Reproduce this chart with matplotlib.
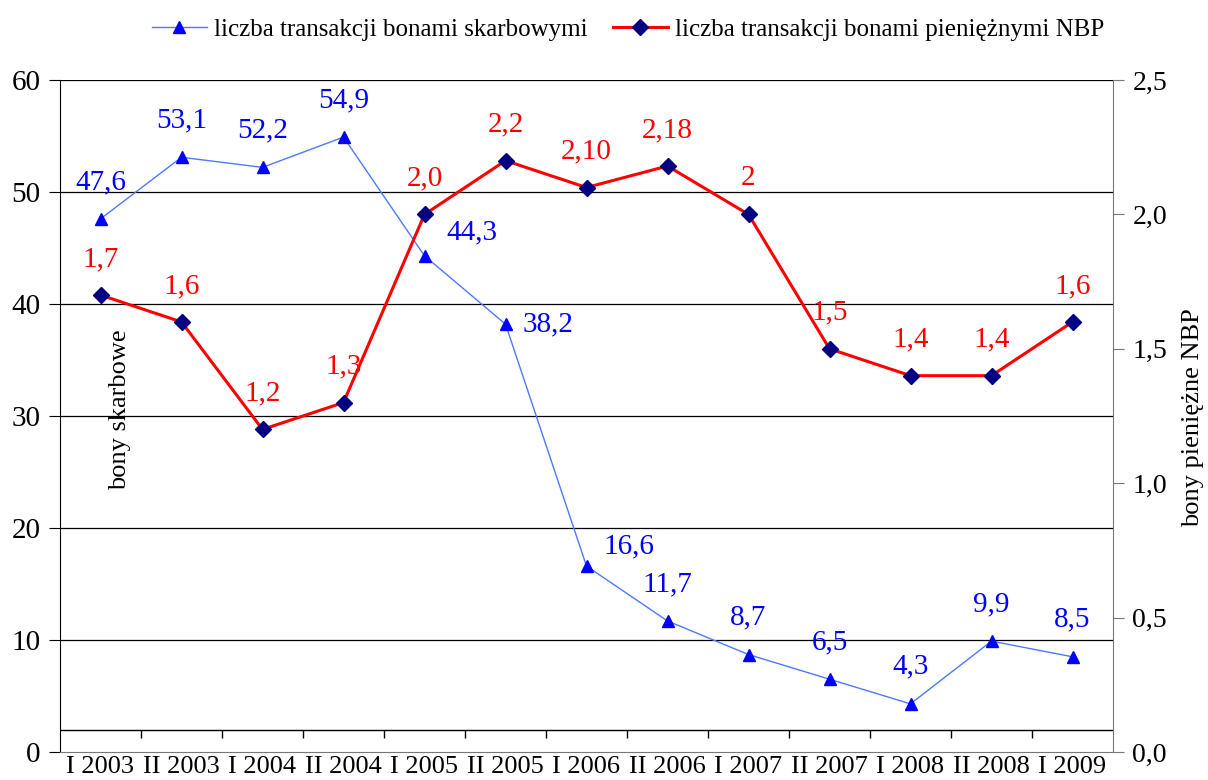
import numpy as np
import matplotlib.pyplot as plt

plt.rcParams['font.family'] = ['Liberation Serif', 'DejaVu Serif']

# data
periods = ['I 2003', 'II 2003', 'I 2004', 'II 2004', 'I 2005', 'II 2005', 'I 2006',
           'II 2006', 'I 2007', 'II 2007', 'I 2008', 'II 2008', 'I 2009']
skarbowe = [47.6, 53.1, 52.2, 54.9, 44.3, 38.2, 16.6, 11.7, 8.7, 6.5, 4.3, 9.9, 8.5]
skarbowe_lbl = ['47,6', '53,1', '52,2', '54,9', '44,3', '38,2', '16,6', '11,7',
                '8,7', '6,5', '4,3', '9,9', '8,5']
nbp = [1.7, 1.6, 1.2, 1.3, 2.0, 2.2, 2.10, 2.18, 2.0, 1.5, 1.4, 1.4, 1.6]
nbp_lbl = ['1,7', '1,6', '1,2', '1,3', '2,0', '2,2', '2,10', '2,18', '2',
           '1,5', '1,4', '1,4', '1,6']

x = np.arange(len(periods))

fig = plt.figure(figsize=(12.08, 7.8), dpi=100)
ax = fig.add_axes([60 / 1208, 28 / 780, 1053 / 1208, 672 / 780])
ax2 = ax.twinx()

# left axis
ax.set_xlim(-0.5, len(periods) - 0.5)
ax.set_ylim(0, 60)
ax.set_yticks(np.arange(0, 61, 10))
ax.tick_params(axis='y', direction='out', length=8, labelsize=21, pad=6)
ax.set_xticks(x)
ax.set_xticklabels(periods, fontsize=19)
ax.tick_params(axis='x', length=0, pad=3)
for v in range(10, 61, 10):
    ax.axhline(v, color='black', lw=0.9, zorder=0)
# category axis line drawn at 2 with boundary ticks
ax.axhline(2, color='black', lw=1.0, zorder=0)
ax.vlines(np.arange(0.5, len(periods) - 1, 1), 2 - 0.75, 2, color='black', lw=1.0)
ax.spines['top'].set_visible(False)
ax.spines['right'].set_visible(False)
ax.spines['bottom'].set_color('#777777')
ax.spines['left'].set_color('black')

ax.plot(x, skarbowe, color='#4D79FF', lw=1.0, marker='^', markersize=9,
        markerfacecolor='#0000FF', markeredgecolor='#0000FF',
        label='liczba transakcji bonami skarbowymi', zorder=3)

blue_off = [(0, 37)] * len(x)
blue_off[4] = (47, 23)
blue_off[5] = (43, 0)
blue_off[6] = (42, 20)
for i in range(len(x)):
    ax.annotate(skarbowe_lbl[i], (x[i], skarbowe[i]), xytext=blue_off[i],
                textcoords='offset pixels', ha='center', va='center',
                color='#0000FF', fontsize=21)

# right axis
ax2.set_ylim(0, 2.5)
ax2.set_yticks(np.arange(0, 2.51, 0.5))
ax2.set_yticklabels(['0,0', '0,5', '1,0', '1,5', '2,0', '2,5'])
ax2.tick_params(axis='y', direction='out', length=8, labelsize=20, pad=6,
                color='#777777')
for s in ['top', 'left', 'bottom']:
    ax2.spines[s].set_visible(False)
ax2.spines['right'].set_color('#777777')

ax2.plot(x, nbp, color='#FF0000', lw=2.2, marker='D', markersize=8,
         markerfacecolor='#000080', markeredgecolor='#000080',
         label='liczba transakcji bonami pieniężnymi NBP', zorder=4)
for i in range(len(x)):
    ax2.annotate(nbp_lbl[i], (x[i], nbp[i]), xytext=(0, 36),
                 textcoords='offset pixels', ha='center', va='center',
                 color='#FF0000', fontsize=21)

ax.text(60 / 1053, 0.51, 'bony skarbowe', rotation=90, transform=ax.transAxes,
        ha='center', va='center', fontsize=19)
fig.text(1193 / 1208, 1 - 418 / 780, 'bony pieniężne NBP', rotation=90,
         ha='center', va='center', fontsize=19)

h1, l1 = ax.get_legend_handles_labels()
h2, l2 = ax2.get_legend_handles_labels()
fig.legend(h1 + h2, l1 + l2, loc='upper center', bbox_to_anchor=(0.52, 1.005),
           ncol=2, frameon=False, fontsize=18, handlelength=2.2,
           handletextpad=0.3, columnspacing=1.0)

fig.savefig('out.png', dpi=100)
